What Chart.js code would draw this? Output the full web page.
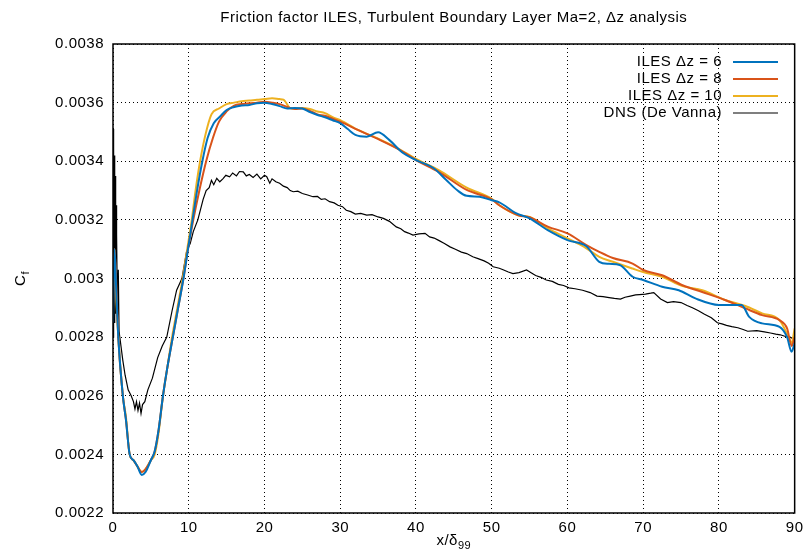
<!DOCTYPE html>
<html>
<head>
<meta charset="utf-8">
<script src="https://cdn.jsdelivr.net/npm/chart.js@4.4.1/dist/chart.umd.min.js"></script>
<style>
  html, body { margin: 0; padding: 0; background: #fff; }
  #wrap { width: 809px; height: 554px; }
</style>
</head>
<body>
<div id="wrap"><canvas id="grafico"></canvas></div>
<script>
// valores
const xTicks = [0, 10, 20, 30, 40, 50, 60, 70, 80, 90]
const legendas = ['ILES \u0394z = 6', 'ILES \u0394z = 8', 'ILES \u0394z = 10', 'DNS (De Vanna)']

const x6 = [0, 0.2, 0.4, 0.7, 1.3, 1.7, 2.2, 2.7, 3.2, 3.8, 4.3, 5, 5.5, 6, 6.6, 7.2, 7.9, 8.6, 9.3, 9.9, 10.5, 11.1, 11.8, 12.5, 13.3, 14.1, 15, 16, 17, 18, 19, 20, 21, 22, 23, 24, 25, 26, 27, 28, 29, 30, 31, 32, 33.5, 35, 36.5, 38.3, 40, 42.3, 44, 45.5, 46.7, 48.4, 50, 51, 53.2, 55, 57.4, 60, 62.5, 64.2, 65.5, 66.9, 68.6, 70, 72.5, 74.7, 76.9, 80, 81.7, 83, 84, 85.7, 88, 89, 89.6, 90]
const y6 = [0.00285, 0.0031, 0.00298, 0.0028, 0.0026, 0.00252, 0.0024, 0.00238, 0.00236, 0.00233, 0.00234, 0.00238, 0.00241, 0.00248, 0.0026, 0.0027, 0.0028, 0.0029, 0.003, 0.0031, 0.0032, 0.0033, 0.0034, 0.00348, 0.00353, 0.003552, 0.003575, 0.003585, 0.00359, 0.003592, 0.003598, 0.0036, 0.003595, 0.003588, 0.00358, 0.003582, 0.00358, 0.003568, 0.003558, 0.00355, 0.00354, 0.00353, 0.00351, 0.00349, 0.003484, 0.003499, 0.003472, 0.003428, 0.003404, 0.003377, 0.003336, 0.0033, 0.003282, 0.003279, 0.003267, 0.00326, 0.003223, 0.003205, 0.003165, 0.003131, 0.00311, 0.003057, 0.00305, 0.003046, 0.003006, 0.002995, 0.002972, 0.00296, 0.002932, 0.00291, 0.00291, 0.00291, 0.002869, 0.002847, 0.002835, 0.0028, 0.00275, 0.00278]

const x8 = [0, 0.2, 0.4, 0.7, 1.3, 1.7, 2.2, 2.7, 3.2, 3.8, 4.3, 5, 5.5, 6, 6.6, 7.2, 7.9, 8.6, 9.3, 9.9, 10.6, 11.4, 12.3, 13.2, 14, 15, 16, 17, 18, 19, 20, 21, 22, 23, 24, 25, 26, 27, 28, 29, 30, 32.4, 34.8, 37.9, 40, 43, 46.7, 50, 51, 53.5, 55, 57.4, 60, 62.5, 64.2, 66, 68.6, 70, 72.5, 75.2, 77.8, 80.9, 83.5, 85.7, 88, 89, 89.6, 90]
const y8 = [0.00287, 0.0031, 0.003, 0.0028, 0.0026, 0.00252, 0.0024, 0.00238, 0.00236, 0.00234, 0.00235, 0.00238, 0.00241, 0.00248, 0.0026, 0.0027, 0.0028, 0.0029, 0.003, 0.0031, 0.0032, 0.0033, 0.0034, 0.00348, 0.003535, 0.00357, 0.00359, 0.003595, 0.003598, 0.0036, 0.003603, 0.0036, 0.003595, 0.003585, 0.003578, 0.00358, 0.003572, 0.00356, 0.003555, 0.003545, 0.003535, 0.003506, 0.003478, 0.003438, 0.003404, 0.003364, 0.003302, 0.00327, 0.00325, 0.003216, 0.003209, 0.003177, 0.003154, 0.003114, 0.003091, 0.00307, 0.003051, 0.003029, 0.003011, 0.002977, 0.002954, 0.002926, 0.002898, 0.002875, 0.002858, 0.00283, 0.00277, 0.0028]

const x10 = [0, 0.2, 0.4, 0.7, 1.3, 1.7, 2.2, 2.7, 3.2, 3.8, 4.3, 5, 5.5, 6, 6.6, 7.2, 7.8, 8.5, 9.2, 9.8, 10.4, 10.9, 11.5, 12.2, 13, 14, 15, 16, 17, 18, 19, 20, 21, 22, 22.5, 23.5, 25, 26, 27, 28, 29, 30, 32.4, 34.8, 37.9, 40, 43, 46.7, 50, 51, 53.5, 55, 57.4, 60, 62.5, 64.2, 66, 68.6, 70, 72.5, 75.2, 77.8, 80.9, 83.5, 85.7, 88, 89.2, 89.6, 90]
const y10 = [0.0029, 0.0031, 0.00295, 0.0028, 0.0026, 0.00253, 0.0024, 0.00238, 0.00236, 0.00234, 0.00235, 0.00238, 0.0024, 0.00247, 0.0026, 0.0027, 0.0028, 0.0029, 0.003, 0.0031, 0.0032, 0.0033, 0.0034, 0.00349, 0.00356, 0.00358, 0.003595, 0.0036, 0.003605, 0.003607, 0.00361, 0.003612, 0.003615, 0.003612, 0.00361, 0.00358, 0.003582, 0.003578, 0.00357, 0.003564, 0.00355, 0.00354, 0.003506, 0.00348, 0.00344, 0.003408, 0.00337, 0.00331, 0.003272, 0.00325, 0.003216, 0.00321, 0.003171, 0.003137, 0.003103, 0.003074, 0.003057, 0.003034, 0.003022, 0.003006, 0.002974, 0.00296, 0.002926, 0.002906, 0.002881, 0.002858, 0.0028, 0.00278, 0.00283]

const xDNS = [0, 0.04, 0.08, 0.12, 0.16, 0.2, 0.25, 0.3, 0.35, 0.4, 0.45, 0.5, 0.6, 0.7, 0.8, 1, 1.3, 1.6, 2, 2.4, 2.7, 2.9, 3.1, 3.3, 3.5, 3.7, 3.9, 4.2, 4.6, 5.2, 5.9, 6.5, 7.1, 7.8, 8.4, 9.1, 9.7, 10.2, 10.6, 11.2, 11.9, 12.3, 12.7, 13, 13.3, 13.7, 14.1, 14.5, 14.9, 15.4, 15.8, 16.3, 16.7, 17.2, 17.6, 18, 18.5, 19, 19.5, 20, 20.3, 20.7, 21, 21.5, 22, 22.5, 23, 23.4, 23.8, 24.4, 25, 25.7, 26.4, 27, 27.5, 28, 28.6, 29.2, 29.7, 30.3, 30.8, 31.4, 32, 32.7, 33.5, 34.2, 35, 35.7, 36.5, 37.4, 38, 38.5, 39, 39.6, 40.4, 41.2, 41.8, 42.4, 43, 43.7, 44.5, 45.2, 46, 46.7, 47.5, 48.2, 49, 49.6, 50.2, 51, 51.5, 52.2, 52.8, 53.6, 54.6, 55.2, 55.8, 56.5, 57.2, 58, 58.8, 59.5, 60.2, 61, 62, 63, 63.9, 64.7, 65.5, 66.2, 67, 67.6, 68.3, 69, 69.5, 70.3, 71, 71.4, 72.3, 73.2, 74, 75, 75.8, 76.5, 77.3, 78.1, 79, 79.8, 80.4, 81, 81.7, 82.5, 83.2, 83.8, 85, 86, 86.8, 87.5, 88.1, 88.7, 89.4, 90]
const yDNS = [0.0028, 0.00351, 0.0029, 0.00345, 0.00285, 0.00342, 0.0029, 0.00335, 0.00288, 0.00325, 0.00287, 0.00315, 0.00286, 0.00303, 0.00282, 0.00278, 0.00272, 0.00267, 0.00262, 0.0026, 0.00258, 0.002555, 0.00258, 0.00255, 0.002575, 0.00254, 0.00257, 0.00258, 0.00262, 0.00266, 0.00273, 0.00277, 0.0028, 0.00289, 0.00296, 0.003, 0.00309, 0.00312, 0.00316, 0.0032, 0.00327, 0.0033, 0.00331, 0.003335, 0.00332, 0.003342, 0.00333, 0.00334, 0.003352, 0.003347, 0.00336, 0.00335, 0.003365, 0.003364, 0.00335, 0.003355, 0.003345, 0.003356, 0.00334, 0.003352, 0.003347, 0.003325, 0.00334, 0.00333, 0.003325, 0.003315, 0.00331, 0.0033, 0.003296, 0.003298, 0.00329, 0.003285, 0.003279, 0.00328, 0.00327, 0.003272, 0.003262, 0.003258, 0.00325, 0.003245, 0.003233, 0.003228, 0.00322, 0.003222, 0.003216, 0.003218, 0.00321, 0.003205, 0.003195, 0.003176, 0.00317, 0.00316, 0.003155, 0.003148, 0.003152, 0.003154, 0.003142, 0.003138, 0.00313, 0.00312, 0.003108, 0.0031, 0.00309, 0.003085, 0.003074, 0.003068, 0.00306, 0.003052, 0.00304, 0.003035, 0.00303, 0.003022, 0.003017, 0.00302, 0.003029, 0.00302, 0.00301, 0.003004, 0.002995, 0.00299, 0.00298, 0.002976, 0.002968, 0.002965, 0.00296, 0.002952, 0.00294, 0.002938, 0.002935, 0.002932, 0.00293, 0.002936, 0.00294, 0.002944, 0.002945, 0.002947, 0.00295, 0.002952, 0.00293, 0.002918, 0.002921, 0.002918, 0.002908, 0.0029, 0.00289, 0.002878, 0.002866, 0.002849, 0.002845, 0.00284, 0.002836, 0.002832, 0.002826, 0.00282, 0.002822, 0.002818, 0.002814, 0.00281, 0.002808, 0.002803, 0.0028, 0.002792]

const cores = ['#0072bd', '#d95319', '#edb120', '#000000']
const FONTE = '"Liberation Sans", Arial, sans-serif'
const ESPACO = '0.5px'

function pares(xs, ys) {
    return xs.map((x, i) => ({x: x, y: ys[i]}))
}

function textoComIndice(ctx, base, indice, cx, cy) {
    ctx.font = '15px ' + FONTE
    const w1 = ctx.measureText(base).width
    ctx.font = '11px ' + FONTE
    const w2 = ctx.measureText(indice).width
    let x0 = cx - (w1 + w2) / 2
    ctx.textAlign = 'left'
    ctx.textBaseline = 'middle'
    ctx.font = '15px ' + FONTE
    ctx.fillText(base, x0, cy)
    ctx.font = '11px ' + FONTE
    ctx.fillText(indice, x0 + w1, cy + 5)
}

const decoracao = {
    id: 'decoracao',
    beforeDraw(chart) {
        chart.ctx.letterSpacing = ESPACO
    },
    afterDraw(chart) {
        const ctx = chart.ctx
        const a = chart.chartArea
        ctx.save()
        ctx.letterSpacing = ESPACO
        ctx.strokeStyle = '#000'
        ctx.lineWidth = 1.5
        ctx.strokeRect(a.left, a.top, a.right - a.left, a.bottom - a.top)

        ctx.fillStyle = '#000'
        ctx.font = '15px ' + FONTE
        ctx.textAlign = 'center'
        ctx.textBaseline = 'middle'
        ctx.fillText('Friction factor ILES, Turbulent Boundary Layer Ma=2, \u0394z analysis', (a.left + a.right) / 2, 18)

        textoComIndice(ctx, 'x/\u03b4', '99', (a.left + a.right) / 2, 541)

        ctx.save()
        ctx.translate(21, (a.top + a.bottom) / 2)
        ctx.rotate(-Math.PI / 2)
        textoComIndice(ctx, 'C', 'f', 0, 0)
        ctx.restore()

        // legenda
        ctx.font = '15px ' + FONTE
        ctx.textAlign = 'right'
        ctx.textBaseline = 'middle'
        legendas.forEach((t, i) => {
            const y = 62 + i * 17
            ctx.fillStyle = '#000'
            ctx.fillText(t, 722, y)
            ctx.strokeStyle = cores[i]
            ctx.lineWidth = i == 3 ? 1.2 : 2
            ctx.beginPath()
            ctx.moveTo(733, y)
            ctx.lineTo(778, y)
            ctx.stroke()
        })
        ctx.restore()
    }
}

const series = [pares(x6, y6), pares(x8, y8), pares(x10, y10), pares(xDNS, yDNS)]

new Chart(document.getElementById('grafico'), {
    type: 'line',
    data: {
        datasets: series.map((d, i) => ({
            label: legendas[i],
            data: d,
            borderColor: cores[i],
            borderWidth: i == 3 ? 1.2 : 2,
            pointRadius: 0,
            cubicInterpolationMode: i == 3 ? 'default' : 'monotone',
            tension: 0,
            fill: false
        }))
    },
    options: {
        responsive: true,
        maintainAspectRatio: false,
        animation: false,
        layout: { padding: { top: 44, right: 14, left: 0, bottom: 0 } },
        plugins: { legend: { display: false }, tooltip: { enabled: false } },
        scales: {
            x: {
                type: 'linear',
                min: 0, max: 90,
                afterFit: s => { s.height = 41 },
                afterBuildTicks: s => { s.ticks = xTicks.map(v => ({value: v})) },
                grid: { color: '#000', lineWidth: 1, drawTicks: false },
                border: { display: false, dash: [1, 3] },
                ticks: { color: '#000', font: { family: FONTE, size: 15 }, padding: 6, maxRotation: 0 }
            },
            y: {
                min: 0.0022, max: 0.0038,
                afterFit: s => { s.width = 113 },
                ticks: {
                    stepSize: 0.0002,
                    color: '#000',
                    font: { family: FONTE, size: 15 },
                    padding: 9,
                    callback: v => String(Number(v.toFixed(4)))
                },
                grid: { color: '#000', lineWidth: 1, drawTicks: false },
                border: { display: false, dash: [1, 3] }
            }
        }
    },
    plugins: [decoracao]
})
</script>
</body>
</html>
